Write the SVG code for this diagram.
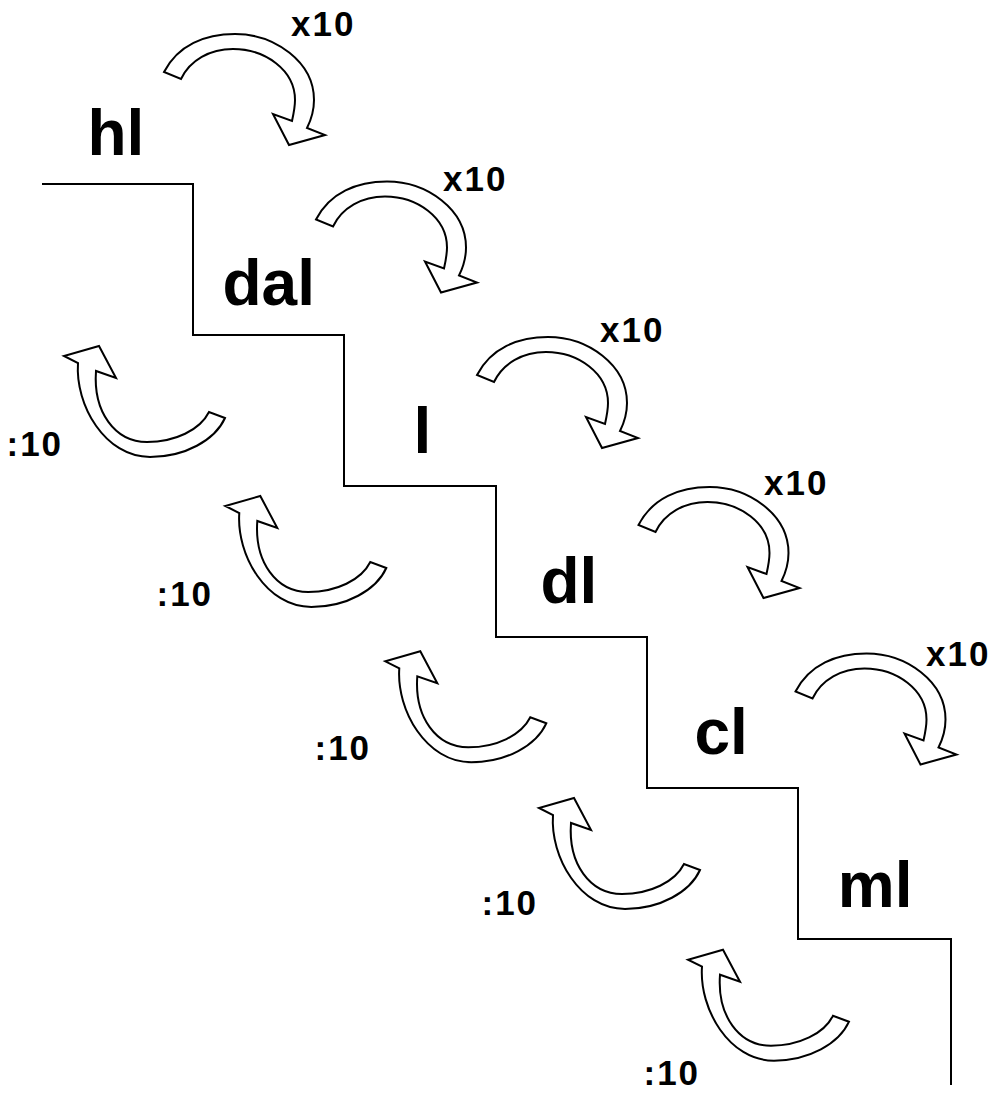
<svg xmlns="http://www.w3.org/2000/svg" xmlns:xlink="http://www.w3.org/1999/xlink" width="992" height="1093" viewBox="0 0 992 1093">
  <style>
    .stair { fill: none; stroke: #000; stroke-width: 2; }
    .arrow { fill: #fff; stroke: #000; stroke-width: 2; stroke-linejoin: miter; }
    .unit { font-family: "Liberation Sans", Arial, sans-serif; font-weight: bold; font-size: 64px; fill: #000; }
    .factor { font-family: "Liberation Sans", Arial, sans-serif; font-weight: bold; font-size: 35px; letter-spacing: 2px; fill: #000; }
  </style>
  <defs>
    <path id="down" d="M164,72 C178,45 205,34 235,34 C275,34 314,62 314,100 C314,110 311,120 307,128 L325,135 L289,145 L273,114 L292,121 C294,112 295,106 295,100 C295,70 265,49 233,49 C210,49 190,60 181,79 Z"/>
    <path id="up" d="M225,418 L209,412 C200,430 175,442 147,442 C115,442 93,412 96,371 L116,378 L99,346 L64,356 L78,363 C75,405 105,457 150,457 C185,457 215,440 225,418 Z"/>
  </defs>
  <rect width="992" height="1093" fill="#fff"/>

  <g id="connectors">
    <path class="stair" d="M42,184 H193 V335 H344 V486 H496 V637 H647 V788 H798 V939 H951 V1085"/>
    <g id="mul-arrows">
      <use xlink:href="#down" class="arrow"/>
      <use xlink:href="#down" class="arrow" transform="translate(152,147.5)"/>
      <use xlink:href="#down" class="arrow" transform="translate(313,303)"/>
      <use xlink:href="#down" class="arrow" transform="translate(474.5,453)"/>
      <use xlink:href="#down" class="arrow" transform="translate(631.5,619.5)"/>
    </g>
    <g id="div-arrows">
      <use xlink:href="#up" class="arrow"/>
      <use xlink:href="#up" class="arrow" transform="translate(161.3,150)"/>
      <use xlink:href="#up" class="arrow" transform="translate(321.3,305.3)"/>
      <use xlink:href="#up" class="arrow" transform="translate(475,452)"/>
      <use xlink:href="#up" class="arrow" transform="translate(624,603.7)"/>
    </g>
    <g id="factor-labels">
      <text class="factor" x="291" y="36">x10</text>
      <text class="factor" x="443" y="191">x10</text>
      <text class="factor" x="600" y="342">x10</text>
      <text class="factor" x="764" y="495">x10</text>
      <text class="factor" x="926" y="666">x10</text>
      <text class="factor" x="6.5" y="456">:10</text>
      <text class="factor" x="156.5" y="606">:10</text>
      <text class="factor" x="314.5" y="760">:10</text>
      <text class="factor" x="481.5" y="915">:10</text>
      <text class="factor" x="643.5" y="1085">:10</text>
    </g>
  </g>

  <g id="node-hl"><text class="unit" x="87.5" y="155">hl</text></g>
  <g id="node-dal"><text class="unit" x="222.5" y="305">dal</text></g>
  <g id="node-l"><text class="unit" x="413.5" y="453">l</text></g>
  <g id="node-dl"><text class="unit" x="540.5" y="603">dl</text></g>
  <g id="node-cl"><text class="unit" x="694.5" y="754">cl</text></g>
  <g id="node-ml"><text class="unit" x="837.8" y="907">ml</text></g>
</svg>
